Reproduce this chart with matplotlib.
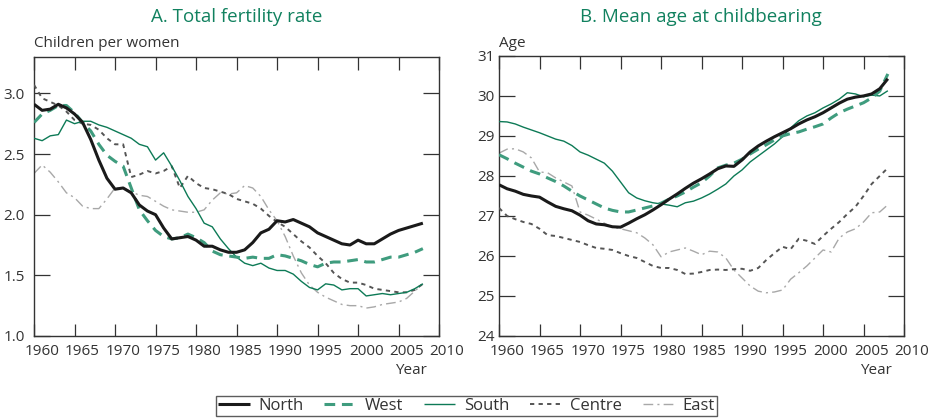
import matplotlib
matplotlib.use("Agg")
import matplotlib.pyplot as plt
import matplotlib.transforms as mtransforms

plt.rcParams["font.family"] = ["Open Sans", "DejaVu Sans"]

# ── data ─────────────────────────────────────────────────────────────────────
YEARS = list(range(1960, 2009))

tfr_north = [2.91, 2.86, 2.87, 2.91, 2.88, 2.83, 2.76, 2.62, 2.45, 2.30,
             2.21, 2.22, 2.18, 2.08, 2.03, 2.00, 1.89, 1.80, 1.81, 1.82,
             1.79, 1.74, 1.74, 1.71, 1.69, 1.69, 1.71, 1.77, 1.85, 1.88,
             1.95, 1.94, 1.96, 1.93, 1.90, 1.85, 1.82, 1.79, 1.76, 1.75,
             1.79, 1.76, 1.76, 1.80, 1.84, 1.87, 1.89, 1.91, 1.93]
tfr_west = [2.76, 2.83, 2.86, 2.90, 2.90, 2.84, 2.76, 2.69, 2.58, 2.49,
            2.44, 2.40, 2.22, 2.04, 1.95, 1.87, 1.82, 1.80, 1.81, 1.84,
            1.81, 1.77, 1.70, 1.67, 1.66, 1.65, 1.64, 1.65, 1.64, 1.64,
            1.67, 1.66, 1.64, 1.62, 1.59, 1.57, 1.60, 1.61, 1.61, 1.62,
            1.63, 1.61, 1.61, 1.63, 1.65, 1.65, 1.67, 1.69, 1.72]
tfr_south = [2.63, 2.61, 2.65, 2.66, 2.78, 2.75, 2.77, 2.77, 2.74, 2.72,
             2.69, 2.66, 2.63, 2.58, 2.56, 2.45, 2.51, 2.40, 2.28, 2.15,
             2.05, 1.93, 1.90, 1.80, 1.72, 1.65, 1.60, 1.58, 1.60, 1.56,
             1.54, 1.54, 1.51, 1.45, 1.40, 1.38, 1.43, 1.42, 1.38, 1.39,
             1.39, 1.33, 1.34, 1.35, 1.34, 1.35, 1.36, 1.39, 1.43]
tfr_centre = [3.07, 2.96, 2.93, 2.90, 2.85, 2.78, 2.75, 2.74, 2.70, 2.63,
              2.58, 2.58, 2.31, 2.33, 2.36, 2.34, 2.36, 2.40, 2.22, 2.32,
              2.26, 2.22, 2.21, 2.19, 2.17, 2.13, 2.11, 2.09, 2.05, 1.99,
              1.94, 1.90, 1.84, 1.78, 1.73, 1.66, 1.60, 1.52, 1.47, 1.44,
              1.44, 1.42, 1.39, 1.38, 1.37, 1.36, 1.36, 1.38, 1.43]
tfr_east = [2.34, 2.41, 2.35, 2.27, 2.18, 2.14, 2.07, 2.05, 2.05, 2.13,
            2.22, 2.22, 2.19, 2.16, 2.15, 2.11, 2.07, 2.04, 2.03, 2.02,
            2.02, 2.04, 2.12, 2.18, 2.17, 2.18, 2.24, 2.22, 2.15, 2.04,
            1.95, 1.82, 1.66, 1.52, 1.42, 1.36, 1.32, 1.29, 1.26, 1.25,
            1.25, 1.23, 1.24, 1.26, 1.27, 1.28, 1.31, 1.37, 1.43]

age_north = [27.78, 27.68, 27.62, 27.54, 27.50, 27.47, 27.35, 27.24, 27.18, 27.13,
             27.02, 26.88, 26.80, 26.78, 26.73, 26.72, 26.82, 26.93, 27.03, 27.15,
             27.28, 27.42, 27.55, 27.69, 27.82, 27.93, 28.05, 28.18, 28.25, 28.24,
             28.40, 28.60, 28.75, 28.87, 28.98, 29.08, 29.18, 29.30, 29.40, 29.48,
             29.58, 29.70, 29.82, 29.92, 29.97, 30.00, 30.05, 30.18, 30.43]
age_west = [28.53, 28.43, 28.32, 28.22, 28.12, 28.05, 27.95, 27.86, 27.75, 27.62,
            27.50, 27.40, 27.30, 27.20, 27.14, 27.10, 27.10, 27.15, 27.20, 27.25,
            27.32, 27.42, 27.50, 27.60, 27.72, 27.83, 28.00, 28.20, 28.27, 28.32,
            28.42, 28.55, 28.67, 28.78, 28.90, 29.00, 29.06, 29.10, 29.17, 29.23,
            29.30, 29.45, 29.58, 29.67, 29.75, 29.83, 29.95, 30.12, 30.55]
age_south = [29.36, 29.35, 29.30, 29.22, 29.15, 29.08, 29.00, 28.92, 28.87, 28.76,
             28.60, 28.52, 28.42, 28.32, 28.12, 27.85, 27.58, 27.45, 27.38, 27.33,
             27.30, 27.27, 27.23, 27.33, 27.37, 27.45, 27.55, 27.67, 27.80, 28.00,
             28.15, 28.35, 28.50, 28.65, 28.80, 28.98, 29.20, 29.38, 29.50, 29.58,
             29.70, 29.80, 29.92, 30.08, 30.05, 29.98, 30.02, 30.00, 30.13]
age_centre = [27.20, 27.00, 26.92, 26.85, 26.80, 26.68, 26.52, 26.50, 26.45, 26.40,
              26.35, 26.27, 26.20, 26.18, 26.15, 26.07, 26.00, 25.95, 25.85, 25.75,
              25.70, 25.70, 25.65, 25.55, 25.56, 25.60, 25.65, 25.66, 25.65, 25.67,
              25.68, 25.63, 25.70, 25.90, 26.07, 26.23, 26.17, 26.43, 26.38, 26.30,
              26.50, 26.68, 26.85, 27.05, 27.23, 27.50, 27.80, 28.00, 28.20]
age_east = [28.57, 28.67, 28.68, 28.60, 28.45, 28.10, 28.08, 27.95, 27.85, 27.75,
            27.10, 27.02, 26.92, 26.82, 26.72, 26.68, 26.63, 26.58, 26.45, 26.28,
            25.98, 26.10, 26.15, 26.20, 26.12, 26.03, 26.12, 26.10, 25.95, 25.65,
            25.45, 25.25, 25.12, 25.08, 25.10, 25.15, 25.42, 25.58, 25.75, 25.95,
            26.15, 26.10, 26.45, 26.60, 26.68, 26.85, 27.08, 27.10, 27.28]

REGIONS = ["North", "West", "South", "Centre", "East"]
X_TICKS = [1960, 1965, 1970, 1975, 1980, 1985, 1990, 1995, 2000, 2005, 2010]
TFR_TICKS = [1.0, 1.5, 2.0, 2.5, 3.0]
AGE_TICKS = [24, 25, 26, 27, 28, 29, 30, 31]

# ── styles ───────────────────────────────────────────────────────────────────
TEAL = "#11815f"
INK = "#333333"
STYLES = {
    "North":  dict(color="#1a1a1a", lw=2.2, ls="-", zorder=6),
    "West":   dict(color="#3f9c7e", lw=2.2, ls=(0, (3.5, 2.2)), zorder=5),
    "South":  dict(color="#0d7a56", lw=1.0, ls="-", zorder=4),
    "Centre": dict(color="#555555", lw=1.4, ls=(0, (2.2, 2.2)), zorder=3),
    "East":   dict(color="#a8a8a8", lw=1.0, ls=(0, (7, 3, 1.5, 3)), zorder=2),
}

fig = plt.figure(figsize=(9.35, 4.18), dpi=100)
ax_a = fig.add_axes([0.0364, 0.1962, 0.4332, 0.6675])
ax_b = fig.add_axes([0.5337, 0.1962, 0.4332, 0.6700])


def style_axis(ax, yticks, ylim, fmt, ypad):
    ax.set_xlim(1960, 2010)
    ax.set_ylim(*ylim)
    ax.set_xticks(X_TICKS)
    ax.set_yticks(yticks)
    ax.set_yticklabels([fmt.format(v) for v in yticks])
    for s in ax.spines.values():
        s.set_color(INK)
        s.set_linewidth(1.0)
    ax.tick_params(axis="x", direction="in", length=9, width=0.9, color=INK,
                   top=True, labelsize=11, labelcolor=INK, pad=6)
    ax.tick_params(axis="y", direction="in", length=11.5, width=0.9, color=INK,
                   right=True, labelsize=11, labelcolor=INK, pad=ypad)
    # the year labels sit slightly right of their ticks in the original
    shift = mtransforms.ScaledTranslation(8 / 100, 0, fig.dpi_scale_trans)
    for lab in ax.get_xticklabels():
        lab.set_transform(lab.get_transform() + shift)
    ax.annotate("Year", xy=(2006.5, -0.122), xycoords=("data", "axes fraction"),
                ha="center", va="center", fontsize=11, color=INK)


panels = [
    (ax_a, [tfr_north, tfr_west, tfr_south, tfr_centre, tfr_east]),
    (ax_b, [age_north, age_west, age_south, age_centre, age_east]),
]
for ax, series in panels:
    for name, vals in zip(REGIONS, series):
        ax.plot(YEARS, vals, label=name, solid_capstyle="butt", **STYLES[name])

style_axis(ax_a, TFR_TICKS, (1.0, 3.3), "{:.1f}", 6.5)
style_axis(ax_b, AGE_TICKS, (24, 31), "{:d}", 3)

ax_a.text(0.0, 1.05, "Children per women", transform=ax_a.transAxes,
          ha="left", va="center", fontsize=11, color=INK)
ax_b.text(0.0, 1.046, "Age", transform=ax_b.transAxes,
          ha="left", va="center", fontsize=11, color=INK)

fig.text(0.253, 0.959, "A. Total fertility rate", ha="center", va="center",
         fontsize=13.5, color=TEAL)
fig.text(0.750, 0.959, "B. Mean age at childbearing", ha="center", va="center",
         fontsize=13.5, color=TEAL)

# legend box hangs off the bottom edge, as in the original
handles, labels = ax_a.get_legend_handles_labels()
leg = fig.legend(handles, labels, loc="upper center", bbox_to_anchor=(0.499, 0.052),
                 ncol=5, fontsize=12, frameon=True, fancybox=False,
                 handlelength=1.9, handletextpad=0.5, columnspacing=1.25,
                 borderpad=0.12, borderaxespad=0.0, labelcolor=INK)
leg.get_frame().set_edgecolor(INK)
leg.get_frame().set_linewidth(1.0)

fig.savefig("out.png", dpi=100)
